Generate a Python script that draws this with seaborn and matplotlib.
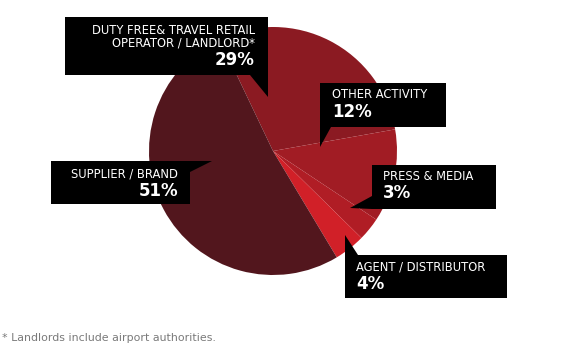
import matplotlib.pyplot as plt
import seaborn as sns
from matplotlib.patches import Polygon

# data
categories = [
    "DUTY FREE& TRAVEL RETAIL\nOPERATOR / LANDLORD*",
    "OTHER ACTIVITY",
    "PRESS & MEDIA",
    "AGENT / DISTRIBUTOR",
    "SUPPLIER / BRAND",
]
shares = [29, 12, 3, 4, 51]
slice_colors = ["#8b1a22", "#a11c24", "#b01d25", "#d12028", "#52161d"]
footnote = "* Landlords include airport authorities."

W, H = 585, 357

# callout layout in pixel coords: box (x0, y0, x1, y1), pointer triangle, text anchor, alignment
callouts = [
    dict(box=(65, 17, 268, 75), tri=[(250, 75), (268, 75), (268, 97)], tx=255, ty=31, ha="right"),
    dict(box=(320, 83, 446, 127), tri=[(320, 127), (331, 127), (320, 147)], tx=332, ty=95, ha="left"),
    dict(box=(372, 165, 496, 209), tri=[(372, 196), (350, 208), (372, 209)], tx=383, ty=176, ha="left"),
    dict(box=(345, 255, 507, 298), tri=[(345, 255), (358, 255), (345, 235)], tx=356, ty=267, ha="left"),
    dict(box=(51, 161, 190, 204), tri=[(190, 161), (212, 161), (190, 172)], tx=178, ty=174, ha="right"),
]


def yp(y):
    # pixel row (from top) -> data y
    return H - y


sns.set_theme(style="white")
plt.rcParams["font.family"] = ["DejaVu Sans"]

fig = plt.figure(figsize=(5.85, 3.57), dpi=100)
ax = fig.add_axes([0, 0, 1, 1])

palette = sns.color_palette(slice_colors)
ax.pie(
    shares,
    colors=palette,
    center=(273, yp(151)),
    radius=124,
    startangle=115.5,
    counterclock=False,
    wedgeprops=dict(linewidth=0.4, edgecolor="none"),
    frame=True,
)
ax.set_xlim(0, W)
ax.set_ylim(0, H)
ax.set_aspect("equal")
ax.axis("off")

for cat, val, c in zip(categories, shares, callouts):
    x0, y0, x1, y1 = c["box"]
    ax.add_patch(Polygon([(x0, yp(y0)), (x1, yp(y0)), (x1, yp(y1)), (x0, yp(y1))],
                         closed=True, facecolor="black", edgecolor="none", zorder=5))
    ax.add_patch(Polygon([(px, yp(py)) for px, py in c["tri"]],
                         closed=True, facecolor="black", edgecolor="none", zorder=5))
    ty = c["ty"]
    for ln in cat.split("\n"):
        ax.text(c["tx"], yp(ty), ln, color="white", fontsize=8.3, ha=c["ha"],
                va="center", zorder=6)
        ty += 12
    ax.text(c["tx"], yp(ty + 5), f"{val}%", color="white", fontsize=12,
            fontweight="bold", ha=c["ha"], va="center", zorder=6)

ax.text(2, yp(338), footnote, color="#7a7a7a", fontsize=7.9, ha="left", va="center")

fig.savefig("out.png", dpi=100, facecolor="white")
